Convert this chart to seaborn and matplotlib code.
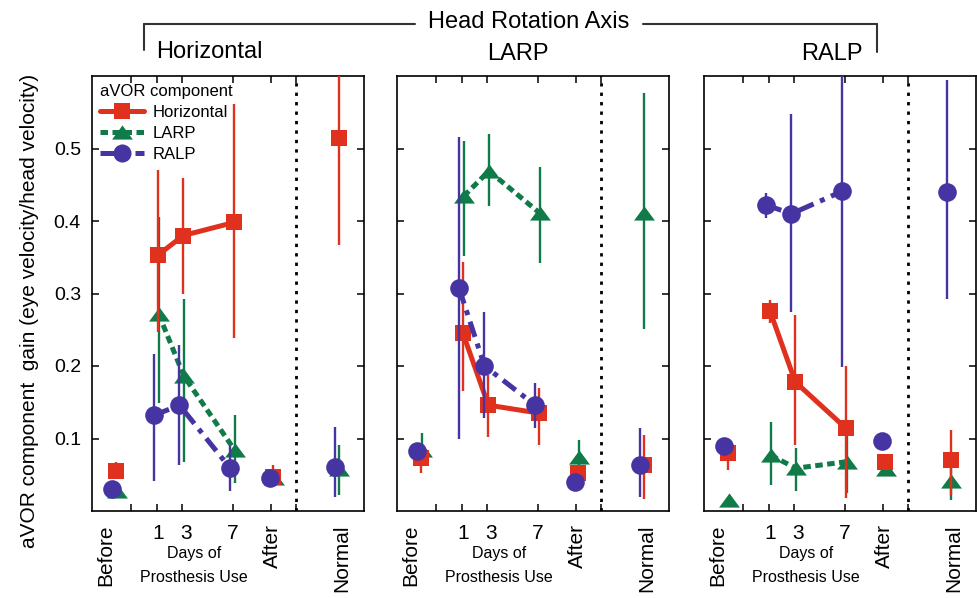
import numpy as np
import pandas as pd
import matplotlib
matplotlib.use("Agg")
import matplotlib.pyplot as plt
from matplotlib.lines import Line2D
from matplotlib import font_manager
import seaborn as sns

# ---------------- data ----------------
categories = ["Before", "1", "3", "7", "After", "Normal"]
category_x = [-2.3, 1, 3, 7, 10.1, 15.25]
day_categories = ["1", "3", "7"]
components = ["Horizontal", "LARP", "RALP"]
head_axes = ["Horizontal", "LARP", "RALP"]
y_ticks = [0.1, 0.2, 0.3, 0.4, 0.5]
nan = np.nan

# Head rotation: Horizontal
hh_horiz_mean = [0.055, 0.353, 0.380, 0.398, 0.047, 0.515]
hh_horiz_lo = [0.045, 0.247, 0.300, 0.238, 0.036, 0.367]
hh_horiz_hi = [0.068, 0.470, 0.459, 0.562, 0.063, 0.663]
hh_larp_mean = [0.028, 0.272, 0.186, 0.084, 0.045, 0.058]
hh_larp_lo = [nan, 0.149, 0.068, 0.038, nan, 0.022]
hh_larp_hi = [nan, 0.406, 0.293, 0.132, nan, 0.091]
hh_ralp_mean = [0.030, 0.132, 0.146, 0.059, 0.046, 0.061]
hh_ralp_lo = [nan, 0.042, 0.063, 0.027, 0.036, 0.020]
hh_ralp_hi = [nan, 0.217, 0.229, 0.090, 0.056, 0.116]

# Head rotation: LARP
hl_horiz_mean = [0.073, 0.245, 0.146, 0.135, 0.052, 0.064]
hl_horiz_lo = [0.052, 0.165, 0.102, 0.091, nan, 0.017]
hl_horiz_hi = [0.092, 0.343, 0.188, 0.169, nan, 0.105]
hl_larp_mean = [0.084, 0.434, 0.469, 0.411, 0.075, 0.411]
hl_larp_lo = [0.065, 0.352, 0.421, 0.342, 0.050, 0.251]
hl_larp_hi = [0.107, 0.511, 0.520, 0.475, 0.098, 0.576]
hl_ralp_mean = [0.083, 0.307, 0.200, 0.146, 0.040, 0.064]
hl_ralp_lo = [nan, 0.100, 0.128, 0.115, nan, 0.020]
hl_ralp_hi = [nan, 0.516, 0.274, 0.177, nan, 0.115]

# Head rotation: RALP
hr_horiz_mean = [0.080, 0.276, 0.178, 0.114, 0.067, 0.070]
hr_horiz_lo = [0.057, 0.259, 0.091, 0.018, nan, 0.022]
hr_horiz_hi = [0.095, 0.291, 0.271, 0.200, nan, 0.112]
hr_larp_mean = [0.015, 0.077, 0.059, 0.068, 0.058, 0.041]
hr_larp_lo = [nan, 0.036, 0.027, 0.025, nan, 0.015]
hr_larp_hi = [nan, 0.123, 0.087, 0.110, nan, 0.075]
hr_ralp_mean = [0.089, 0.422, 0.410, 0.441, 0.096, 0.440]
hr_ralp_lo = [nan, 0.404, 0.275, 0.198, nan, 0.293]
hr_ralp_hi = [nan, 0.439, 0.547, 0.690, nan, 0.594]

series = {
    ("Horizontal", "Horizontal"): (hh_horiz_mean, hh_horiz_lo, hh_horiz_hi),
    ("Horizontal", "LARP"): (hh_larp_mean, hh_larp_lo, hh_larp_hi),
    ("Horizontal", "RALP"): (hh_ralp_mean, hh_ralp_lo, hh_ralp_hi),
    ("LARP", "Horizontal"): (hl_horiz_mean, hl_horiz_lo, hl_horiz_hi),
    ("LARP", "LARP"): (hl_larp_mean, hl_larp_lo, hl_larp_hi),
    ("LARP", "RALP"): (hl_ralp_mean, hl_ralp_lo, hl_ralp_hi),
    ("RALP", "Horizontal"): (hr_horiz_mean, hr_horiz_lo, hr_horiz_hi),
    ("RALP", "LARP"): (hr_larp_mean, hr_larp_lo, hr_larp_hi),
    ("RALP", "RALP"): (hr_ralp_mean, hr_ralp_lo, hr_ralp_hi),
}

# ---------------- style ----------------
wide_triangle = [(-1.0, -0.68), (1.0, -0.68), (0.0, 0.68), (-1.0, -0.68)]
style = {
    "Horizontal": dict(color="#E0301E", marker="s", s=125, ls="-", off=0.1, z=4, lms=11),
    "LARP": dict(color="#107A48", marker=wide_triangle, s=225, ls=(0, (1.5, 0.9)), off=0.15, z=3, lms=15),
    "RALP": dict(color="#4634A2", marker="o", s=180, ls=(0, (3.2, 1.4, 1.0, 1.4)), off=-0.2, z=5, lms=13),
}
draw_order = ["LARP", "Horizontal", "RALP"]

rows = []
for (head, comp), (m, lo, hi) in series.items():
    for cat, xv, mv, lv, hv in zip(categories, category_x, m, lo, hi):
        rows.append(dict(head_axis=head, component=comp, category=cat,
                         x=xv + style[comp]["off"], gain=mv, lo=lv, hi=hv))
df = pd.DataFrame(rows)

sns.set_theme(style="ticks")
names = {f.name for f in font_manager.fontManager.ttflist}
main_font = "Liberation Sans" if "Liberation Sans" in names else "DejaVu Sans"
plt.rcParams["font.family"] = [main_font, "DejaVu Sans"]
plt.rcParams["text.color"] = "black"
plt.rcParams["axes.labelcolor"] = "black"
plt.rcParams["xtick.color"] = "black"
plt.rcParams["ytick.color"] = "black"

W, H = 977, 598
fig = plt.figure(figsize=(W / 100, H / 100), dpi=100)
panel_left_px = [92, 397, 704]
top_px, bottom_px, width_px = 76, 511, 272

axes = []
for i, head in enumerate(head_axes):
    ax = fig.add_axes([panel_left_px[i] / W, 1 - bottom_px / H, width_px / W, (bottom_px - top_px) / H])
    axes.append(ax)
    for comp in draw_order:
        st = style[comp]
        sub = df[(df["head_axis"] == head) & (df["component"] == comp)]
        eb = sub.dropna(subset=["lo", "hi"])
        ax.vlines(eb["x"], eb["lo"], eb["hi"], color=st["color"], lw=1.7, zorder=st["z"])
        days = sub[sub["category"].isin(day_categories)]
        sns.lineplot(data=days, x="x", y="gain", ax=ax, color=st["color"], lw=3.6,
                     linestyle=st["ls"], errorbar=None, legend=False, zorder=st["z"] + 0.1,
                     sort=True)
        sns.scatterplot(data=sub, x="x", y="gain", ax=ax, marker=st["marker"], s=st["s"],
                        color=st["color"], edgecolor=st["color"], linewidth=0,
                        legend=False, zorder=st["z"] + 0.2)
    ax.axvline(12, color="black", ls=(0, (1.2, 2.2)), lw=2.0, zorder=1)
    ax.set_xlim(-4.1, 17.35)
    ax.set_ylim(0, 0.6)
    ax.set_xticks([-1, 1, 3, 7, 10, 12])
    ax.set_xticklabels([])
    ax.set_yticks(y_ticks)
    ax.set_xlabel("")
    ax.tick_params(direction="in", top=True, right=True, length=5, width=1.1)
    ax.tick_params(axis="y", pad=8)
    if i == 0:
        ax.set_yticklabels([f"{v:.1f}" for v in y_ticks], fontsize=14)
        ax.set_ylabel("aVOR component  gain (eye velocity/head velocity)", fontsize=15)
        ax.yaxis.set_label_coords(-0.195, 0.46)
    else:
        ax.set_yticklabels([])
        ax.set_ylabel("")
    for sp in ax.spines.values():
        sp.set_linewidth(1.2)
        sp.set_color("black")
        sp.set_visible(True)

    tr = ax.get_xaxis_transform()
    for lab, xv in zip(["Before", "After", "Normal"], [-3.0, 10.1, 15.6]):
        ax.text(xv, -0.03, lab, transform=tr, rotation=90, ha="center", va="top", fontsize=15)
    for lab, xv in zip(day_categories, [1.1, 3.3, 7.0]):
        ax.text(xv, -0.03, lab, transform=tr, ha="center", va="top", fontsize=15)
    ax.text(3.95, -0.08, "Days of", transform=tr, ha="center", va="top", fontsize=11.5)
    ax.text(3.95, -0.135, "Prosthesis Use", transform=tr, ha="center", va="top", fontsize=11.5)

# legend
handles = []
for comp in components:
    st = style[comp]
    handles.append(Line2D([], [], color=st["color"], lw=3.6, linestyle=st["ls"], marker=st["marker"],
                          markersize=st["lms"], markeredgewidth=0))
leg = axes[0].legend(handles, components, title="aVOR component", loc="upper left",
                     frameon=False, fontsize=12, title_fontsize=12, handlelength=2.6,
                     borderaxespad=0.2, labelspacing=0.35, handletextpad=0.55,
                     borderpad=0.3)
leg._legend_box.align = "left"

# titles and bracket
def fx(px):
    return px / W

def fy(py):
    return 1 - py / H

line_kw = dict(color="#333333", lw=1.5, transform=fig.transFigure)
fig.add_artist(Line2D([fx(144), fx(415)], [fy(24), fy(24)], **line_kw))
fig.add_artist(Line2D([fx(643), fx(877)], [fy(24), fy(24)], **line_kw))
fig.add_artist(Line2D([fx(144), fx(144)], [fy(24), fy(50)], **line_kw))
fig.add_artist(Line2D([fx(877), fx(877)], [fy(24), fy(52)], **line_kw))
fig.text(fx(529), fy(22), "Head Rotation Axis", ha="center", va="center", fontsize=17)
for lab, px, py in zip(head_axes, [209, 518, 832], [52, 54, 54]):
    fig.text(fx(px), fy(py), lab, ha="center", va="center", fontsize=17)

fig.savefig("out.png", dpi=100)
